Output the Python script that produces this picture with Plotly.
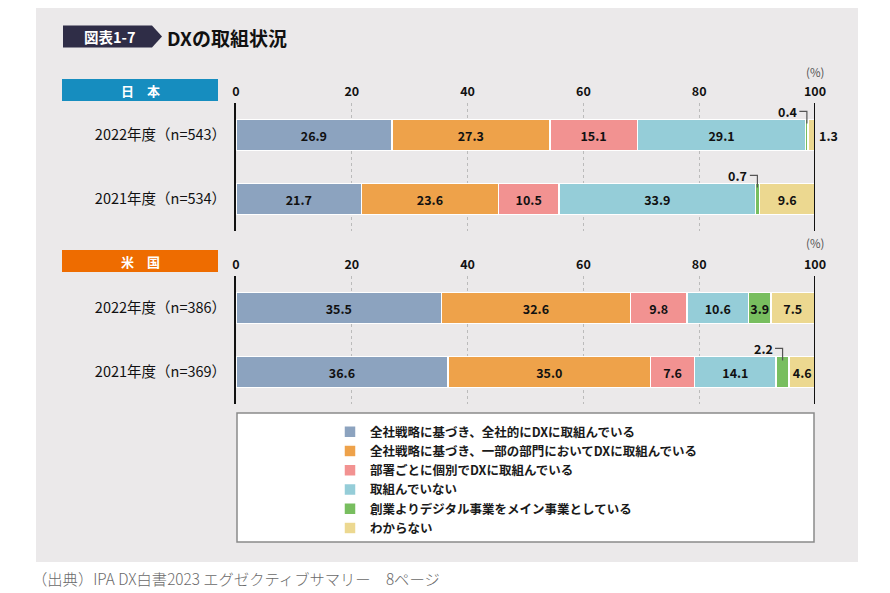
import plotly.graph_objects as go

# ---------------- data ----------------
categories = [
    "全社戦略に基づき、全社的にDXに取組んでいる",
    "全社戦略に基づき、一部の部門においてDXに取組んでいる",
    "部署ごとに個別でDXに取組んでいる",
    "取組んでいない",
    "創業よりデジタル事業をメイン事業としている",
    "わからない",
]
colors = ["#8CA3BF", "#EEA24A", "#F29291", "#95CDD8", "#78BE5F", "#ECD890"]

japan_labels = ["2022年度（n=543）", "2021年度（n=534）"]
japan_2022 = [26.9, 27.3, 15.1, 29.1, 0.4, 1.3]
japan_2021 = [21.7, 23.6, 10.5, 33.9, 0.7, 9.6]

us_labels = ["2022年度（n=386）", "2021年度（n=369）"]
us_2022 = [35.5, 32.6, 9.8, 10.6, 3.9, 7.5]
us_2021 = [36.6, 35.0, 7.6, 14.1, 2.2, 4.6]

x_ticks = [0, 20, 40, 60, 80, 100]

# ---------------- helpers ----------------
W, H = 890, 593
FONT = "Noto Sans CJK JP"


def px(x):
    return x / W


def py(y):
    return 1 - y / H


fig = go.Figure()

panels = [
    dict(name="日　本", labels=japan_labels, rows=[japan_2022, japan_2021], xa="x", ya="y",
         box_color="#168DBF", box_top=79, box_bot=101, pct_y=72, show_legend=True),
    dict(name="米　国", labels=us_labels, rows=[us_2022, us_2021], xa="x2", ya="y2",
         box_color="#EE6C00", box_top=250, box_bot=272, pct_y=243, show_legend=False),
]

shapes = []
annotations = []

# background panel
shapes.append(dict(type="rect", xref="paper", yref="paper", x0=px(36), x1=px(858),
                   y0=py(562), y1=py(8), fillcolor="#EBE9EA", line=dict(width=0), layer="below"))
# legend box
shapes.append(dict(type="rect", xref="paper", yref="paper", x0=px(237), x1=px(814),
                   y0=py(542), y1=py(413), fillcolor="#FFFFFF",
                   line=dict(color="#8A8A8A", width=1.5), layer="below"))
# title badge
shapes.append(dict(type="path", xref="paper", yref="paper",
                   path=f"M {px(63)},{py(25.5)} L {px(152)},{py(25.5)} L {px(162)},{py(36.5)} "
                        f"L {px(152)},{py(47.5)} L {px(63)},{py(47.5)} Z",
                   fillcolor="#2F2D47", line=dict(width=0), layer="below"))
annotations.append(dict(text="図表1-7", xref="paper", yref="paper", x=px(109), y=py(36.5),
                        showarrow=False, font=dict(family=FONT, size=14.5, color="white", weight="bold"),
                        xanchor="center", yanchor="middle"))
annotations.append(dict(text="DXの取組状況", xref="paper", yref="paper", x=px(165), y=py(37),
                        showarrow=False, font=dict(family=FONT, size=19, color="#111111", weight="bold"),
                        xanchor="left", yanchor="middle"))

for p in panels:
    xa, ya = p["xa"], p["ya"]
    # stacked bars
    for ci, cat in enumerate(categories):
        vals = [row[ci] for row in p["rows"]]
        fig.add_trace(go.Bar(
            x=vals, y=[0, 1], orientation="h", name=cat,
            xaxis=xa, yaxis=ya, width=0.48,
            marker=dict(color=colors[ci], line=dict(color="white", width=1.5)),
            text=[f"{v:.1f}" if v >= 3 else "" for v in vals],
            textposition="inside", insidetextanchor="middle", textangle=0,
            textfont=dict(family=FONT, size=12.5, color="#111111", weight="bold"),
            legendgroup=cat, showlegend=p["show_legend"], hoverinfo="skip",
        ))
    # labels for the small segments
    for ri, row in enumerate(p["rows"]):
        start = 0.0
        for ci, v in enumerate(row):
            center = start + v / 2
            if v < 3:
                if ci == len(row) - 1:
                    annotations.append(dict(text=f"{v:.1f}", xref=xa, yref=ya, x=100, y=ri,
                                            xanchor="left", yanchor="middle", xshift=2, showarrow=False,
                                            font=dict(family=FONT, size=12.5, color="#111111", weight="bold")))
                else:
                    annotations.append(dict(text=f"{v:.1f}", xref=xa, yref=ya, x=center, y=ri - 0.36,
                                            xanchor="right", yanchor="middle", xshift=-8, showarrow=False,
                                            font=dict(family=FONT, size=12.5, color="#111111", weight="bold")))
                    shapes.append(dict(type="path", xref=xa, yref=ya,
                                       path=f"M {center - 1.3},{ri - 0.37} L {center},{ri - 0.37} L {center},{ri - 0.18}",
                                       line=dict(color="#555555", width=1.2), layer="above"))
            start += v
    # 100% line
    shapes.append(dict(type="line", xref=xa, yref=ya + " domain", x0=100, x1=100, y0=0, y1=1,
                       line=dict(color="#111111", width=2), layer="above"))
    # (%) label
    annotations.append(dict(text="(%)", xref=xa, yref="paper", x=100, y=py(p["pct_y"]),
                            showarrow=False, xanchor="center", yanchor="middle",
                            font=dict(family=FONT, size=11.5, color="#555555")))
    # country box
    shapes.append(dict(type="rect", xref="paper", yref="paper", x0=px(62), x1=px(218),
                       y0=py(p["box_bot"]), y1=py(p["box_top"]), fillcolor=p["box_color"],
                       line=dict(width=0), layer="below"))
    annotations.append(dict(text=p["name"], xref="paper", yref="paper", x=px(140),
                            y=py((p["box_top"] + p["box_bot"]) / 2), showarrow=False,
                            xanchor="center", yanchor="middle",
                            font=dict(family=FONT, size=13, color="white", weight="bold")))

# source
annotations.append(dict(text="（出典）IPA DX白書2023 エグゼクティブサマリー　8ページ", xref="paper", yref="paper",
                        x=px(30), y=py(578), xanchor="left", yanchor="middle", showarrow=False,
                        font=dict(family=FONT, size=15.3, color="#6A6A6A", weight=300)))

xaxis_common = dict(range=[0, 100], side="top", tickvals=x_ticks, showgrid=True, griddash="dot",
                    gridcolor="#BBBBBB", gridwidth=1, zeroline=False, showline=False, ticks="",
                    ticklabelstandoff=4, fixedrange=True, automargin=False,
                    tickfont=dict(family=FONT, size=12.5, color="#111111", weight="bold"),
                    domain=[px(236), px(815)])
yaxis_common = dict(range=[1.5, -0.5], tickvals=[0, 1], showline=True, linecolor="#111111",
                    linewidth=2, showgrid=False, zeroline=False, ticks="", ticklabelstandoff=5,
                    fixedrange=True, automargin=False, tickfont=dict(family=FONT, size=14.5, color="#111111"))

fig.update_layout(
    autosize=True, margin=dict(l=0, r=0, t=0, b=0),
    paper_bgcolor="white", plot_bgcolor="rgba(0,0,0,0)",
    barmode="stack",
    font=dict(family=FONT),
    uniformtext=dict(minsize=12, mode="show"),
    xaxis=dict(**xaxis_common, anchor="y"),
    xaxis2=dict(**xaxis_common, anchor="y2"),
    yaxis=dict(**yaxis_common, domain=[py(231), py(103)], anchor="x", ticktext=japan_labels),
    yaxis2=dict(**yaxis_common, domain=[py(404), py(276)], anchor="x2", ticktext=us_labels),
    legend=dict(x=px(330), y=py(417), xanchor="left", yanchor="top", orientation="v",
                traceorder="normal", bgcolor="rgba(0,0,0,0)", borderwidth=0,
                font=dict(family=FONT, size=12.5, color="#1A1A1A", weight="bold"), itemclick=False,
                itemdoubleclick=False),
    shapes=shapes, annotations=annotations,
)

fig.write_html(
    "out.html",
    config={"displayModeBar": False, "responsive": True},
    default_width="100vw", default_height="100vh",
    post_script=("document.documentElement.style.margin='0';document.body.style.margin='0';"
                 "document.body.style.overflow='hidden';"
                 "Plotly.Plots.resize(document.getElementById('{plot_id}'));"),
)
